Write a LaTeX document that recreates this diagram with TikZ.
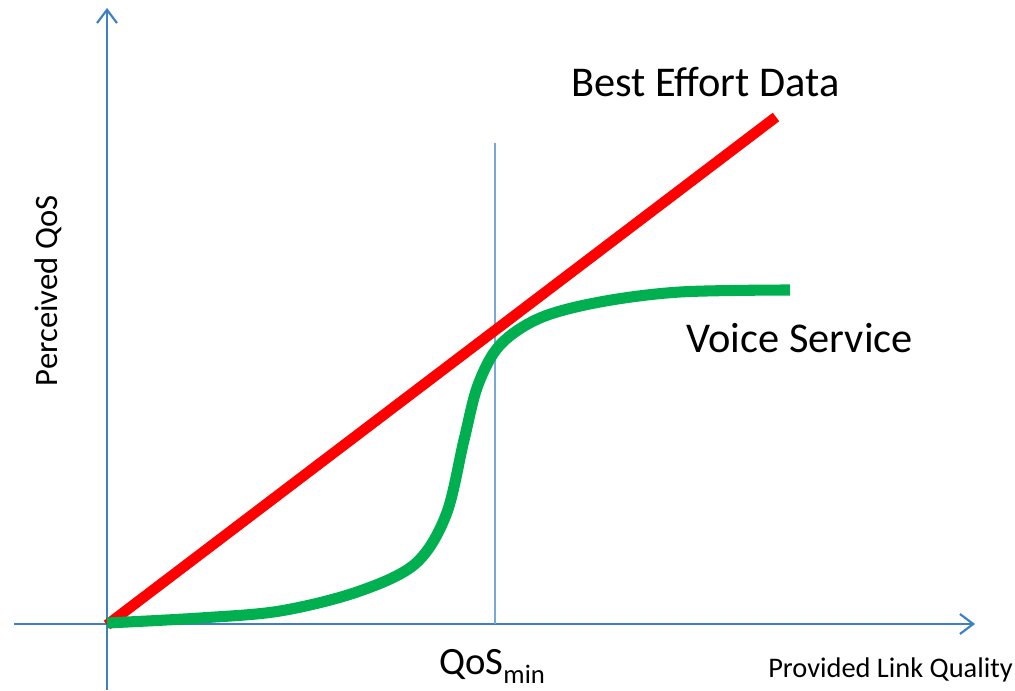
\documentclass[tikz,border=0pt]{standalone}
\usepackage{fontspec}
\setmainfont{Carlito}
\usetikzlibrary{arrows.meta}
\definecolor{axisblue}{HTML}{3F7FC3}
\definecolor{guideblue}{HTML}{7BA9D6}
\definecolor{voicegreen}{HTML}{00B050}
\definecolor{datared}{HTML}{FF0000}
\begin{document}
\begin{tikzpicture}[x=0.75pt,y=-0.75pt,
  axis/.style={draw=axisblue,line width=2.2pt,-{Straight Barb[length=10pt,width=15pt,line width=1.6pt]}},
  guide/.style={draw=guideblue,line width=1.1pt},
  curve/.style={line width=8pt},
  biglabel/.style={font=\fontsize{31.8}{38}\selectfont,inner sep=0pt,anchor=base west},
  smalllabel/.style={font=\fontsize{21.3}{26}\selectfont,inner sep=0pt}]
\useasboundingbox (0,0) rectangle (1015,691);
% axes
\coordinate (origin) at (107,624);
\coordinate (xstart) at (14,624);
\coordinate (xend) at (975,624);
\coordinate (ystart) at (107,690);
\coordinate (yend) at (107,8);
\draw[axis] (xstart) -- (xend);
\draw[axis] (ystart) -- (yend);
% threshold line
\coordinate (qtop) at (495,143);
\coordinate (qbot) at (495,624);
\draw[guide] (qtop) -- (qbot);
% best effort data: linear
\coordinate (bestend) at (776,117);
\draw[datared,curve] (107,625) -- (bestend);
% voice service: S-shaped
\draw[voicegreen,curve,line width=8.3pt] plot[smooth,tension=0.55] coordinates {
  (107,623) (200,618) (280,611) (357,592) (415,564) (446,515) (464,440) (478,385)
  (500,345) (540,318) (600,302) (680,292) (790,290)};
% labels
\node[biglabel] (best) at (571,97) {Best Effort Data};
\node[biglabel] (voice) at (686,353) {Voice Service};
\node[inner sep=0pt,anchor=base west,font=\fontsize{29}{34}\selectfont] (qos) at (439,675)
  {QoS\raisebox{-6pt}{\fontsize{20}{24}\selectfont min}};
\node[smalllabel,anchor=base west] (xlab) at (768,677) {Provided Link Quality};
\node[font=\fontsize{24.5}{29}\selectfont,inner sep=0pt,rotate=90] (ylab) at (48,291) {Perceived QoS};
\end{tikzpicture}
\end{document}
